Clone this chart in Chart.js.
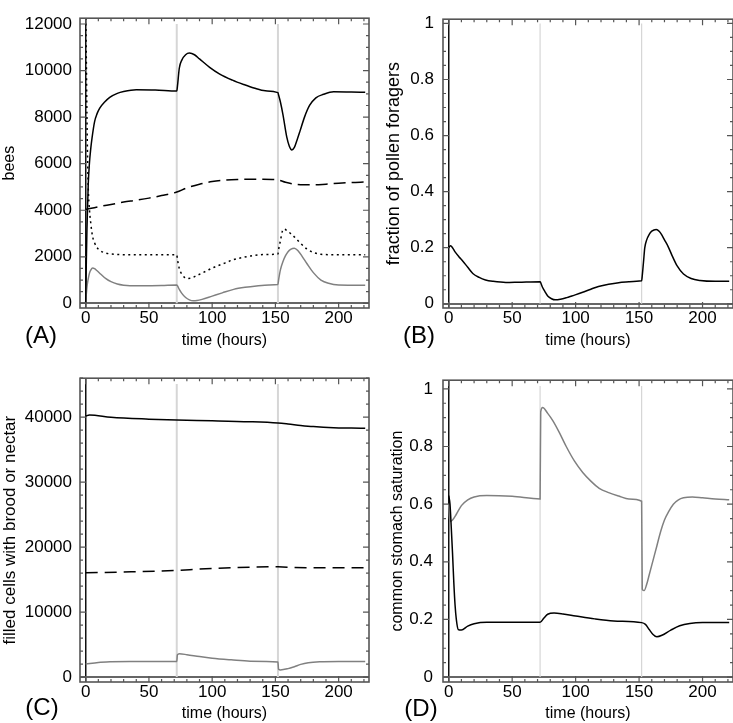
<!DOCTYPE html>
<html>
<head>
<meta charset="utf-8">
<script src="https://cdn.jsdelivr.net/npm/chart.js@4.4.0/dist/chart.umd.min.js"></script>
<style>
  html, body { margin: 0; padding: 0; background: #fff; }
  #fig { position: relative; width: 733px; height: 723px; overflow: hidden; font-family: "Liberation Sans", Arial, sans-serif; }
  #fig canvas { position: absolute; }
  .tag { position: absolute; font-size: 24px; line-height: 1; color: #000; transform: translate(-50%, -50%); }
</style>
</head>
<body>
<div id="fig">
  <canvas id="chartA" width="370" height="350" style="left:0px;top:0px"></canvas>
  <canvas id="chartB" width="370" height="350" style="left:364px;top:0px"></canvas>
  <canvas id="chartC" width="370" height="363" style="left:0px;top:360px"></canvas>
  <canvas id="chartD" width="370" height="363" style="left:364px;top:360px"></canvas>
  <div class="tag" style="left:41px;top:335px">(A)</div>
  <div class="tag" style="left:419px;top:335px">(B)</div>
  <div class="tag" style="left:42px;top:707px">(C)</div>
  <div class="tag" style="left:421px;top:708px">(D)</div>
</div>
<script>
// ---- dados ----
var xTicks = [0, 50, 100, 150, 200];
var switchTimes = [72, 152];

// (A) bees
var beesTicks = [0, 2000, 4000, 6000, 8000, 10000, 12000];
var beesSolidT = [0, 0.5, 1, 2, 3, 4, 5, 7, 9, 11, 15, 19, 25, 30, 40, 55, 72, 72.5, 74, 76, 79, 82, 86, 90, 98, 106, 116, 125, 133, 142, 152, 152.5, 154, 156, 159, 161, 163, 165, 167, 169.5, 173, 177, 182, 188, 196, 210, 221];
var beesSolid = [0, 1800, 3200, 5100, 6050, 6650, 7100, 7800, 8150, 8380, 8650, 8850, 9020, 9100, 9180, 9170, 9120, 9300, 10100, 10450, 10680, 10750, 10680, 10500, 10140, 9850, 9590, 9400, 9250, 9130, 9050, 8950, 8640, 8100, 7140, 6750, 6590, 6700, 7000, 7410, 8000, 8500, 8830, 8980, 9090, 9080, 9070];
var beesDashedT = [0, 10, 20, 30, 40, 50, 60, 72, 80, 90, 100, 110, 120, 130, 140, 152, 158, 165, 172, 180, 190, 200, 210, 221];
var beesDashed = [4030, 4150, 4250, 4350, 4430, 4520, 4630, 4780, 4960, 5120, 5230, 5290, 5320, 5330, 5330, 5300, 5200, 5120, 5090, 5090, 5120, 5160, 5190, 5210];
var beesDottedT = [0, 0.5, 1, 1.5, 2, 3, 4, 5.3, 7, 8.5, 11, 16, 20, 35, 50, 72, 72.5, 74, 76, 78, 80, 83, 88, 95, 101, 110, 117, 125, 133, 142, 152, 152.5, 154, 155.5, 157, 159, 162, 166, 170, 175, 180, 186, 195, 205, 221];
var beesDotted = [12500, 10500, 8000, 6200, 5000, 4000, 3450, 2910, 2600, 2430, 2280, 2160, 2120, 2090, 2090, 2090, 1900, 1500, 1250, 1120, 1070, 1080, 1200, 1380, 1540, 1730, 1880, 1980, 2060, 2100, 2120, 2300, 2700, 3100, 3190, 3130, 3000, 2800, 2570, 2330, 2190, 2110, 2090, 2090, 2090];
var beesGrayT = [0, 0.5, 1, 2, 3, 4, 5.5, 7, 9, 12, 16, 20, 25, 30, 35, 45, 60, 72, 72.5, 74, 76, 79, 82, 85, 88, 92, 100, 108, 117, 126, 135, 145, 152, 152.5, 154, 156, 158, 160, 162, 165, 168, 171, 175, 180, 186, 192, 200, 221];
var beesGray = [0, 400, 700, 1050, 1300, 1430, 1520, 1490, 1400, 1250, 1060, 930, 830, 780, 760, 760, 770, 790, 760, 600, 430, 250, 150, 110, 120, 170, 310, 450, 600, 690, 750, 790, 810, 1000, 1450, 1800, 2050, 2220, 2320, 2370, 2250, 2030, 1700, 1320, 1000, 860, 790, 780];

// (B) fraction of pollen foragers
var fracTicks = [0, 0.2, 0.4, 0.6, 0.8, 1];
var pollenT = [0, 1.5, 3, 5, 8, 11, 15, 19, 24, 29, 35, 45, 55, 72, 72.5, 74, 76, 78, 81, 84, 88, 93, 97, 105, 112, 118, 126, 134, 142, 152, 152.5, 153.5, 154.5, 156, 158, 160, 163.5, 166, 168, 170, 172.8, 176, 180, 185, 191, 198, 210, 221];
var pollen = [0.2, 0.207, 0.2, 0.185, 0.168, 0.153, 0.13, 0.108, 0.094, 0.085, 0.08, 0.076, 0.077, 0.079, 0.075, 0.058, 0.042, 0.028, 0.018, 0.014, 0.016, 0.022, 0.028, 0.04, 0.052, 0.062, 0.07, 0.075, 0.079, 0.082, 0.1, 0.15, 0.2, 0.228, 0.248, 0.259, 0.265, 0.258, 0.245, 0.228, 0.205, 0.172, 0.135, 0.106, 0.09, 0.083, 0.08, 0.08];

// (C) filled cells
var cellTicks = [0, 10000, 20000, 30000, 40000];
var cellsSolidT = [0, 3, 20, 50, 72, 100, 130, 152, 160, 170, 180, 196, 210, 221];
var cellsSolid = [40150, 40350, 40000, 39700, 39550, 39450, 39300, 39100, 38950, 38730, 38550, 38380, 38330, 38300];
var cellsDashedT = [0, 36, 72, 90, 110, 130, 152, 165, 180, 221];
var cellsDashed = [16050, 16200, 16420, 16620, 16800, 16920, 16970, 16850, 16820, 16820];
var cellsGrayT = [0, 10, 20, 35, 72, 72.5, 74, 80, 90, 100, 115, 130, 152, 152.5, 154, 160, 165, 170, 176, 185, 200, 221];
var cellsGray = [2000, 2250, 2350, 2400, 2400, 3400, 3580, 3450, 3150, 2900, 2650, 2450, 2300, 1200, 1100, 1300, 1600, 1950, 2200, 2350, 2400, 2400];

// (D) common stomach saturation
var stomachSolidT = [0, 1, 2, 3, 4, 5, 6, 7.5, 10, 15, 20, 30, 50, 72, 75, 78, 83, 90, 100, 115, 130, 152, 155, 158, 161, 164, 168, 175, 182, 190, 200, 221];
var stomachSolid = [0.63, 0.6, 0.52, 0.43, 0.33, 0.25, 0.2, 0.165, 0.163, 0.177, 0.185, 0.19, 0.19, 0.19, 0.205, 0.218, 0.222, 0.219, 0.212, 0.202, 0.195, 0.189, 0.183, 0.165, 0.148, 0.14, 0.145, 0.163, 0.178, 0.186, 0.189, 0.189];
var stomachGrayT = [0, 0.5, 1, 3, 6, 10, 15, 20, 30, 50, 72, 72.5, 74, 78, 82, 87, 92.6, 99, 105.6, 112, 118.6, 126, 134, 142, 152, 152.5, 154, 156, 158, 161, 164, 167, 170, 173.4, 177, 181, 185, 192, 200, 210, 221];
var stomachGray = [0.6, 0.56, 0.54, 0.545, 0.565, 0.595, 0.615, 0.625, 0.63, 0.627, 0.618, 0.92, 0.935, 0.915, 0.89, 0.85, 0.8, 0.75, 0.71, 0.68, 0.655, 0.64, 0.628, 0.618, 0.61, 0.305, 0.3, 0.322, 0.355, 0.405, 0.455, 0.505, 0.545, 0.575, 0.6, 0.615, 0.622, 0.625, 0.622, 0.618, 0.615];

Chart.defaults.font.family = '"Liberation Sans", Arial, sans-serif';
Chart.defaults.color = '#000';

function pts(ts, vs) {
  return ts.map(function (t, i) { return { x: t, y: vs[i] }; });
}

function line(ts, vs, color, dash) {
  return {
    data: pts(ts, vs),
    borderColor: color,
    borderWidth: 1.5,
    borderDash: dash || [],
    pointRadius: 0,
    fill: false,
    cubicInterpolationMode: 'monotone'
  };
}

// linhas cinza claras nos instantes de troca
function switchLines(top, width) {
  return switchTimes.map(function (t) {
    return {
      data: [{ x: t, y: 0 }, { x: t, y: top }],
      borderColor: '#d6d6d6',
      borderWidth: width,
      pointRadius: 0,
      order: 10
    };
  });
}

// moldura e marcas internas nos quatro lados
var frameTicks = {
  id: 'frameTicks',
  afterDatasetsDraw: function (chart, args, opts) {
    var ctx = chart.ctx, a = chart.chartArea;
    var xs = chart.scales.x, ys = chart.scales.y;
    var n, p, len, k;
    ctx.save();
    ctx.strokeStyle = '#555';
    ctx.lineWidth = 1.2;
    ctx.beginPath();
    k = Math.round(opts.xMajor / opts.xMinor);
    for (n = Math.ceil(xs.min / opts.xMinor); n * opts.xMinor <= xs.max; n++) {
      p = xs.getPixelForValue(n * opts.xMinor);
      len = (n % k === 0) ? 6 : 3;
      ctx.moveTo(p, a.bottom); ctx.lineTo(p, a.bottom - len);
      ctx.moveTo(p, a.top); ctx.lineTo(p, a.top + len);
    }
    k = Math.round(opts.yMajor / opts.yMinor);
    for (n = Math.ceil(ys.min / opts.yMinor); n * opts.yMinor <= ys.max + 1e-9; n++) {
      p = ys.getPixelForValue(n * opts.yMinor);
      len = (n % k === 0) ? 6 : 3;
      ctx.moveTo(a.left, p); ctx.lineTo(a.left + len, p);
      ctx.moveTo(a.right, p); ctx.lineTo(a.right - len, p);
    }
    ctx.stroke();
    ctx.lineWidth = 1.6;
    ctx.strokeRect(a.left, a.top, a.right - a.left, a.bottom - a.top);
    ctx.restore();
  }
};

function makePanel(id, s) {
  var ctx = document.getElementById(id).getContext('2d');
  return new Chart(ctx, {
    type: 'line',
    data: { datasets: s.datasets.concat(switchLines(s.switchTop, s.switchWidth)) },
    plugins: [frameTicks],
    options: {
      responsive: false,
      animation: false,
      devicePixelRatio: 1,
      layout: { padding: { top: s.padTop, right: 1, left: 0, bottom: 0 } },
      plugins: {
        legend: { display: false },
        tooltip: { enabled: false },
        frameTicks: { xMinor: 10, xMajor: 50, yMinor: s.yMinor, yMajor: s.yMajor }
      },
      scales: {
        x: {
          type: 'linear',
          min: -4.5,
          max: 224,
          afterBuildTicks: function (sc) { sc.ticks = xTicks.map(function (v) { return { value: v }; }); },
          afterFit: function (sc) { sc.height = s.xHeight; },
          ticks: { font: { size: 17 }, padding: s.xTickPad, maxRotation: 0, autoSkip: false,
                   callback: function (v) { return String(v); } },
          grid: { drawTicks: false, lineWidth: 1.5,
                  color: function (c) { return c.tick && c.tick.value === 0 ? '#111' : 'rgba(0,0,0,0)'; } },
          border: { display: false },
          title: { display: true, text: 'time (hours)', font: { size: 16 }, padding: { top: 0, bottom: s.xTitlePad } }
        },
        y: {
          type: 'linear',
          min: s.yMin,
          max: s.yMax,
          afterBuildTicks: function (sc) { sc.ticks = s.yTicks.map(function (v) { return { value: v }; }); },
          afterFit: function (sc) { sc.width = s.yWidth; },
          ticks: { font: { size: 17 }, padding: s.yTickPad, autoSkip: false,
                   callback: function (v) { return String(v); } },
          grid: { drawTicks: false, lineWidth: 2,
                  color: function (c) { return c.tick && c.tick.value === 0 ? '#666' : 'rgba(0,0,0,0)'; } },
          border: { display: false },
          title: { display: true, text: s.yTitle, font: { size: s.yTitleSize }, padding: { top: s.yTitlePad, bottom: 0 } }
        }
      }
    }
  });
}

document.addEventListener('DOMContentLoaded', function () {
  makePanel('chartA', {
    datasets: [
      line(beesSolidT, beesSolid, '#000'),
      line(beesDashedT, beesDashed, '#000', [12, 6]),
      line(beesDottedT, beesDotted, '#000', [2, 3.5]),
      line(beesGrayT, beesGray, '#808080')
    ],
    switchTop: 12000, switchWidth: 2,
    padTop: 2, xHeight: 42, xTickPad: 0, xTitlePad: 0,
    yMin: -200, yMax: 12250, yTicks: beesTicks, yMinor: 500, yMajor: 2000,
    yWidth: 80, yTickPad: 8, yTitle: 'bees', yTitleSize: 16, yTitlePad: 0
  });

  makePanel('chartB', {
    datasets: [ line(pollenT, pollen, '#000') ],
    switchTop: 1, switchWidth: 1.2,
    padTop: 2, xHeight: 42, xTickPad: 0, xTitlePad: 0,
    yMin: -0.015, yMax: 1.015, yTicks: fracTicks, yMinor: 0.05, yMajor: 0.2,
    yWidth: 79, yTickPad: 9, yTitle: 'fraction of pollen foragers', yTitleSize: 18, yTitlePad: 19
  });

  makePanel('chartC', {
    datasets: [
      line(cellsSolidT, cellsSolid, '#000'),
      line(cellsDashedT, cellsDashed, '#000', [12, 7]),
      line(cellsGrayT, cellsGray, '#808080')
    ],
    switchTop: 45100, switchWidth: 2,
    padTop: 16, xHeight: 41, xTickPad: 0, xTitlePad: 0,
    yMin: -760, yMax: 46000, yTicks: cellTicks, yMinor: 2000, yMajor: 10000,
    yWidth: 80, yTickPad: 8, yTitle: 'filled cells with brood or nectar', yTitleSize: 17, yTitlePad: 0
  });

  makePanel('chartD', {
    datasets: [
      line(stomachSolidT, stomachSolid, '#000'),
      line(stomachGrayT, stomachGray, '#808080')
    ],
    switchTop: 1.01, switchWidth: 1.2,
    padTop: 16, xHeight: 41, xTickPad: 0, xTitlePad: 0,
    yMin: -0.017, yMax: 1.03, yTicks: fracTicks, yMinor: 0.05, yMajor: 0.2,
    yWidth: 79, yTickPad: 10, yTitle: 'common stomach saturation', yTitleSize: 16, yTitlePad: 24
  });
});
</script>
</body>
</html>
